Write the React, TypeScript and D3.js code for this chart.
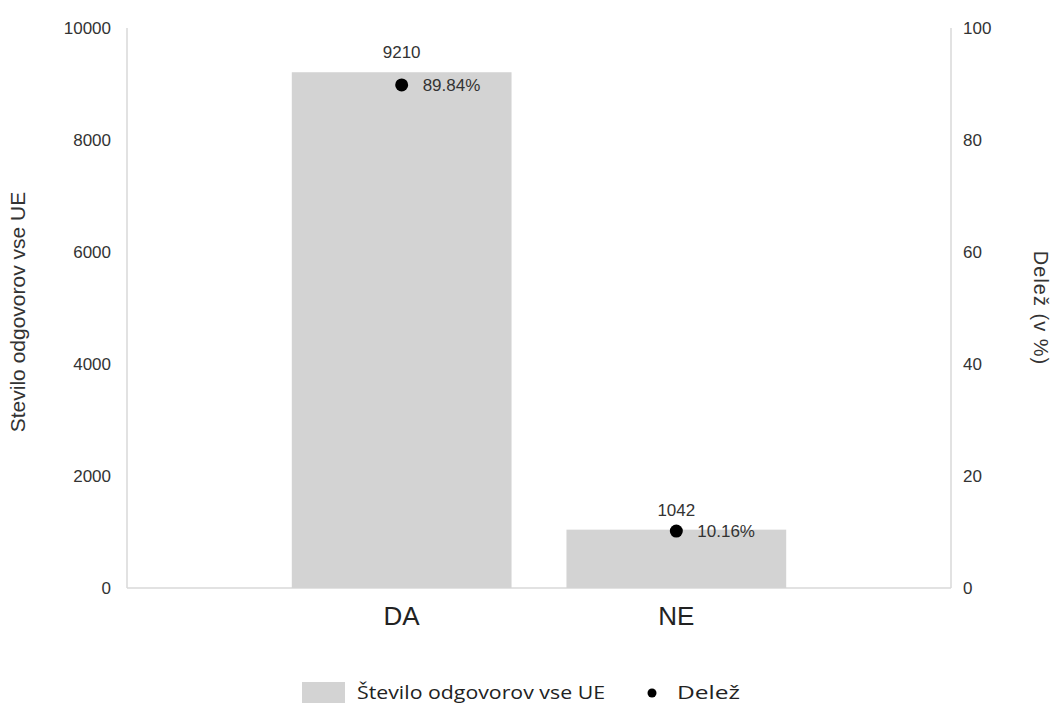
import React from "react";
import * as d3 from "d3";

const categories = ["DA", "NE"];
const counts = [9210, 1042];
const shares = [89.84, 10.16];
const leftTicks = [0, 2000, 4000, 6000, 8000, 10000];
const rightTicks = [0, 20, 40, 60, 80, 100];
const leftTitle = "Stevilo odgovorov vse UE";
const rightTitle = "Delež (v %)";
const legendBar = "Število odgovorov vse UE";
const legendDot = "Delež";

const W = 1056;
const H = 706;
const M = { left: 127, right: 951, top: 28, bottom: 588 };
const FONT = "'Liberation Sans', Arial, sans-serif";
const LFONT = "'Open Sans', Lato, sans-serif";
const TXT = "#333";

export default function App() {
  const x = d3
    .scaleBand<string>()
    .domain(categories)
    .range([M.left, M.right])
    .paddingInner(0.2)
    .paddingOuter(0.6);
  const yL = d3.scaleLinear().domain([0, 10000]).range([M.bottom, M.top]);
  const yR = d3.scaleLinear().domain([0, 100]).range([M.bottom, M.top]);
  const bw = x.bandwidth();

  return (
    <svg
      width={W}
      height={H}
      style={{ position: "absolute", left: 0, top: 0, background: "#fff" }}
    >
      {/* frame */}
      <g stroke="#d9d9d9" strokeWidth={1.5} fill="none">
        <line x1={M.left} x2={M.left} y1={M.top} y2={M.bottom} />
        <line x1={M.right} x2={M.right} y1={M.top} y2={M.bottom} />
        <line x1={M.left} x2={M.right} y1={M.bottom} y2={M.bottom} />
      </g>

      {/* left ticks */}
      {leftTicks.map((t) => (
        <text
          key={"l" + t}
          x={111}
          y={yL(t)}
          dy="0.35em"
          textAnchor="end"
          fontFamily={FONT}
          fontSize={17}
          fill={TXT}
        >
          {t}
        </text>
      ))}
      {/* right ticks */}
      {rightTicks.map((t) => (
        <text
          key={"r" + t}
          x={963}
          y={yR(t)}
          dy="0.35em"
          textAnchor="start"
          fontFamily={FONT}
          fontSize={17}
          fill={TXT}
        >
          {t}
        </text>
      ))}

      {/* axis titles */}
      <text
        transform={`translate(25,${(M.top + M.bottom) / 2 + 4}) rotate(-90)`}
        textAnchor="middle"
        fontFamily={FONT}
        fontSize={21}
        fill={TXT}
      >
        {leftTitle}
      </text>
      <text
        transform={`translate(1034,${(M.top + M.bottom) / 2}) rotate(90)`}
        textAnchor="middle"
        fontFamily={FONT}
        fontSize={20}
        letterSpacing={1}
        fill={TXT}
      >
        {rightTitle}
      </text>

      {/* bars */}
      {categories.map((c, i) => (
        <rect
          key={"b" + c}
          x={x(c)}
          y={yL(counts[i])}
          width={bw}
          height={yL(0) - yL(counts[i])}
          fill="#d3d3d3"
        />
      ))}
      {/* bar labels */}
      {categories.map((c, i) => (
        <text
          key={"bl" + c}
          x={(x(c) as number) + bw / 2}
          y={yL(counts[i]) - 14}
          textAnchor="middle"
          fontFamily={FONT}
          fontSize={17}
          fill={TXT}
        >
          {counts[i]}
        </text>
      ))}
      {/* dots */}
      {categories.map((c, i) => (
        <g key={"d" + c}>
          <circle
            cx={(x(c) as number) + bw / 2}
            cy={yR(shares[i])}
            r={6.5}
            fill="#000"
          />
          <text
            x={(x(c) as number) + bw / 2 + 21}
            y={yR(shares[i])}
            dy="0.35em"
            fontFamily={FONT}
            fontSize={17}
            fill={TXT}
          >
            {shares[i].toFixed(2) + "%"}
          </text>
        </g>
      ))}

      {/* category labels */}
      {categories.map((c) => (
        <text
          key={"c" + c}
          x={(x(c) as number) + bw / 2}
          y={625}
          textAnchor="middle"
          fontFamily={FONT}
          fontSize={26}
          fill="#222"
        >
          {c}
        </text>
      ))}

      {/* legend */}
      <rect x={302} y={682} width={43} height={21} fill="#d3d3d3" />
      <text
        x={357}
        y={699}
        fontFamily={LFONT}
        fontSize={19}
        textLength={248}
        lengthAdjust="spacingAndGlyphs"
        fill="#222"
      >
        {legendBar}
      </text>
      <circle cx={652} cy={693} r={4.5} fill="#000" />
      <text
        x={677}
        y={699}
        fontFamily={LFONT}
        fontSize={19}
        textLength={63}
        lengthAdjust="spacingAndGlyphs"
        fill="#222"
      >
        {legendDot}
      </text>
    </svg>
  );
}
